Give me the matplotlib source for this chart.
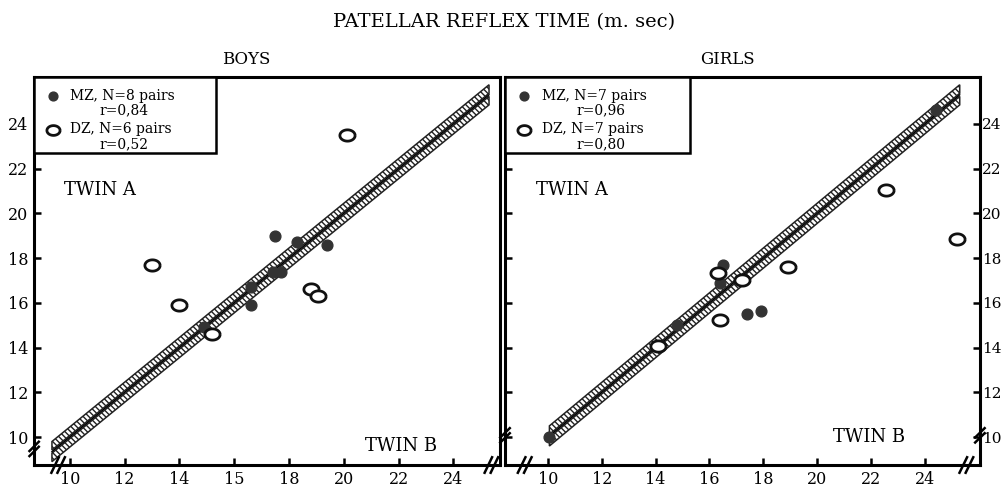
import matplotlib.pyplot as plt
import numpy as np
from matplotlib.patches import Polygon, Rectangle
from matplotlib.path import Path

plt.rcParams['font.family'] = ['DejaVu Serif']
plt.rcParams['hatch.linewidth'] = 1.0
plt.rcParams['hatch.color'] = '#3a3a3a'

# reflex times (m. sec): x = twin B, y = twin A
boys_mz_b = [17.5, 18.3, 19.4, 17.4, 17.7, 16.6, 16.6, 14.9]
boys_mz_a = [19.0, 18.7, 18.6, 17.4, 17.4, 15.9, 16.7, 14.9]
boys_dz_b = [20.1, 13.0, 14.0, 15.2, 18.8, 19.05]
boys_dz_a = [23.5, 17.7, 15.9, 14.6, 16.6, 16.3]

girls_mz_b = [10.05, 16.5, 16.4, 17.4, 17.9, 24.4, 14.8]
girls_mz_a = [10.0, 17.7, 16.9, 15.5, 15.65, 24.6, 15.0]
girls_dz_b = [22.55, 25.2, 18.9, 16.3, 17.2, 16.4, 14.1]
girls_dz_a = [21.05, 18.85, 17.6, 17.35, 17.0, 15.25, 14.05]

ticks = [10, 12, 14, 16, 18, 20, 22, 24]
boys_xlabels = ['10', '12', '14', '15', '18', '20', '22', '24']
girls_xlabels = ['10', '12', '14', '16', '18', '20', '22', '24']

boys_legend = ['MZ, N=8 pairs', 'r=0,84', 'DZ, N=6 pairs', 'r=0,52']
girls_legend = ['MZ, N=7 pairs', 'r=0,96', 'DZ, N=7 pairs', 'r=0,80']

# slightly flattened ring used for the DZ pairs
t = np.linspace(0, 2 * np.pi, 60)
oval = Path(np.column_stack([1.35 * np.cos(t), np.sin(t)]))

fig = plt.figure(figsize=(10.04, 4.9), dpi=100)
ax_b = fig.add_axes([0.034, 0.051, 0.464, 0.792])
ax_g = fig.add_axes([0.503, 0.051, 0.473, 0.792])


def identity_band(ax, x0, x1, hw=0.45, gap=0.07):
    # two hatched strips either side of the line of identity
    for lo, hi in ((gap, hw), (-hw, -gap)):
        pts = [(x0, x0 + lo), (x1, x1 + lo), (x1, x1 + hi), (x0, x0 + hi)]
        ax.add_patch(Polygon(pts, closed=True, facecolor='white',
                             edgecolor='#222222', hatch='\\\\\\\\\\\\',
                             lw=1.1, zorder=2))
    ax.plot([x0, x1], [x0, x1], color='black', lw=1.0, zorder=3)


def break_mark(ax, xa, ya, vertical=False):
    for d in (0, 0.013):
        if vertical:
            xs = [xa - 0.01, xa + 0.01]
            ys = [ya - 0.012 + d, ya + 0.012 + d]
        else:
            xs = [xa - 0.008 + d, xa + 0.008 + d]
            ys = [ya - 0.02, ya + 0.02]
        ax.plot(xs, ys, transform=ax.transAxes, color='black', lw=1.8,
                clip_on=False, zorder=6)


def draw_panel(ax, mz_b, mz_a, dz_b, dz_a, xlim, xlabels, band, legend,
               leg_w, rx, twin_b_x, twin_b_y, yside):
    ax.set_xlim(*xlim)
    ax.set_ylim(8.75, 26.1)
    identity_band(ax, *band)
    ax.scatter(mz_b, mz_a, s=60, color='#333333', edgecolor='#333333',
               zorder=4)
    ax.scatter(dz_b, dz_a, s=120, marker=oval, facecolor='white',
               edgecolor='#111111', linewidth=2.0, zorder=4)

    for sp in ax.spines.values():
        sp.set_linewidth(2.2)
    ax.set_xticks(ticks)
    ax.set_xticklabels(xlabels)
    ax.set_yticks(ticks)
    ax.tick_params(direction='in', length=5, width=1.8, labelsize=11.5,
                   pad=4)
    if yside == 'right':
        ax.yaxis.tick_right()
        ax.tick_params(axis='y', left=True, labelleft=False, right=True,
                       labelright=True, direction='in', labelsize=11,
                       pad=1.5)
    else:
        ax.tick_params(axis='y', left=True, labelleft=True, right=False)

    # key box in the upper left corner
    ax.add_patch(Rectangle((0, 0.805), leg_w, 0.195, transform=ax.transAxes,
                           facecolor='white', edgecolor='black', lw=1.8,
                           zorder=5, clip_on=False))
    ax.scatter([0.04], [0.952], s=40, color='#333333', transform=ax.transAxes,
               zorder=6)
    ax.scatter([0.04], [0.862], s=90, marker=oval, facecolor='white',
               edgecolor='#111111', linewidth=2.0, transform=ax.transAxes,
               zorder=6)
    kw = dict(transform=ax.transAxes, fontsize=10, zorder=6, va='center')
    ax.text(0.077, 0.952, legend[0], **kw)
    ax.text(rx, 0.913, legend[1], **kw)
    ax.text(0.077, 0.865, legend[2], **kw)
    ax.text(rx, 0.826, legend[3], **kw)

    ax.text(0.065, 0.695, 'TWIN A', transform=ax.transAxes, fontsize=13)
    ax.text(twin_b_x, twin_b_y, 'TWIN B', transform=ax.transAxes,
            fontsize=13)


draw_panel(ax_b, boys_mz_b, boys_mz_a, boys_dz_b, boys_dz_a,
           (8.7, 25.7), boys_xlabels, (9.35, 25.3), boys_legend, 0.39, 0.14,
           0.71, 0.035, 'left')
draw_panel(ax_g, girls_mz_b, girls_mz_a, girls_dz_b, girls_dz_a,
           (8.4, 26.05), girls_xlabels, (10.05, 25.3), girls_legend, 0.39,
           0.15, 0.69, 0.06, 'right')

break_mark(ax_b, 0.045, 0.0)
break_mark(ax_b, 0.0, 0.035, vertical=True)
break_mark(ax_b, 0.975, 0.0)
break_mark(ax_g, 0.035, 0.0)
break_mark(ax_g, 0.0, 0.07, vertical=True)
break_mark(ax_g, 0.965, 0.0)
break_mark(ax_g, 1.0, 0.07, vertical=True)

fig.text(0.245, 0.878, 'BOYS', ha='center', va='center', fontsize=12)
fig.text(0.725, 0.878, 'GIRLS', ha='center', va='center', fontsize=12)
fig.text(0.502, 0.955, 'PATELLAR REFLEX TIME (m. sec)', ha='center',
         va='center', fontsize=14)

fig.savefig('out.png', dpi=100)
